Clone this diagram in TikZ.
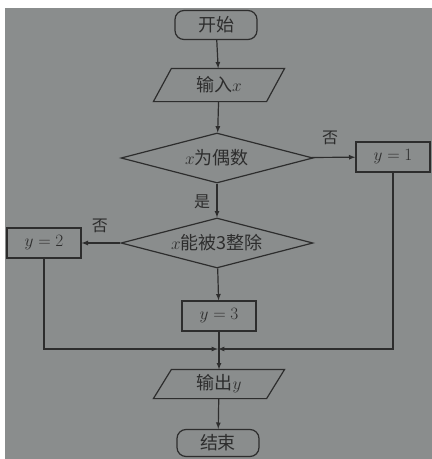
\documentclass[tikz,border=0pt]{standalone}
\usepackage{fontspec}
\newfontfamily\cjk{Noto Sans CJK SC}
\usetikzlibrary{shapes.geometric}
\definecolor{photo}{RGB}{138,141,141}
\definecolor{ink}{RGB}{45,45,45}

\begin{document}
\begin{tikzpicture}[x=1pt,y=-1pt,>=latex,line width=1.2pt,
  every node/.style={text=ink,font=\fontsize{18}{20}\selectfont\cjk},
  term/.style={draw=ink,rounded corners=9pt,minimum width=82pt,minimum height=29pt},
  io/.style={minimum width=112pt,minimum height=32pt},
  test/.style={draw=ink,diamond,aspect=3.8,inner sep=0pt,minimum width=192pt,minimum height=50pt},
  assign/.style={draw=ink,minimum width=74pt,minimum height=30pt},
  tag/.style={font=\fontsize{16}{18}\selectfont\cjk}]
\fill[white] (0,0) rectangle (432,459);
\fill[photo] (5,8) rectangle (432,459);

\node[term] (start) at (216,25) {开始};
\node[io] (in) at (219,85) {输入$x$};
\draw[ink] ([xshift=9pt]in.north west) -- ([xshift=9pt]in.north east) -- ([xshift=-9pt]in.south east) -- ([xshift=-9pt]in.south west) -- cycle;
\node[test] (odd) at (217,158) {$x$为偶数};
\node[assign] (y1) at (393,157) {$y=1$};
\node[test] (three) at (217,243) {$x$能被3整除};
\node[assign] (y2) at (44,243) {$y=2$};
\node[assign] (y3) at (219,316) {$y=3$};
\coordinate (m) at (218,349);
\node[io,minimum height=28pt] (out) at (219,384) {输出$y$};
\draw[ink] ([xshift=9pt]out.north west) -- ([xshift=9pt]out.north east) -- ([xshift=-9pt]out.south east) -- ([xshift=-9pt]out.south west) -- cycle;
\node[term,minimum height=27pt] (end) at (218,443) {结束};

% labels
\node[tag] (no1) at (330,138) {否};
\node[tag] (yes1) at (202,202) {是};
\node[tag] (no2) at (100,226) {否};

\draw[->,ink] (start) -- (in);
\draw[->,ink] (in) -- (odd);
\draw[->,ink] (odd) -- (y1);
\draw[->,ink] (odd) -- (three);
\draw[->,ink] (three) -- (y2);
\draw[->,ink] (three) -- (y3);
\draw[->,ink] (y2) |- (m);
\draw[->,ink] (y1) |- (m);
\draw[->,ink] (y3) -- (out);
\draw[->,ink] (out) -- (end);
\end{tikzpicture}
\end{document}
